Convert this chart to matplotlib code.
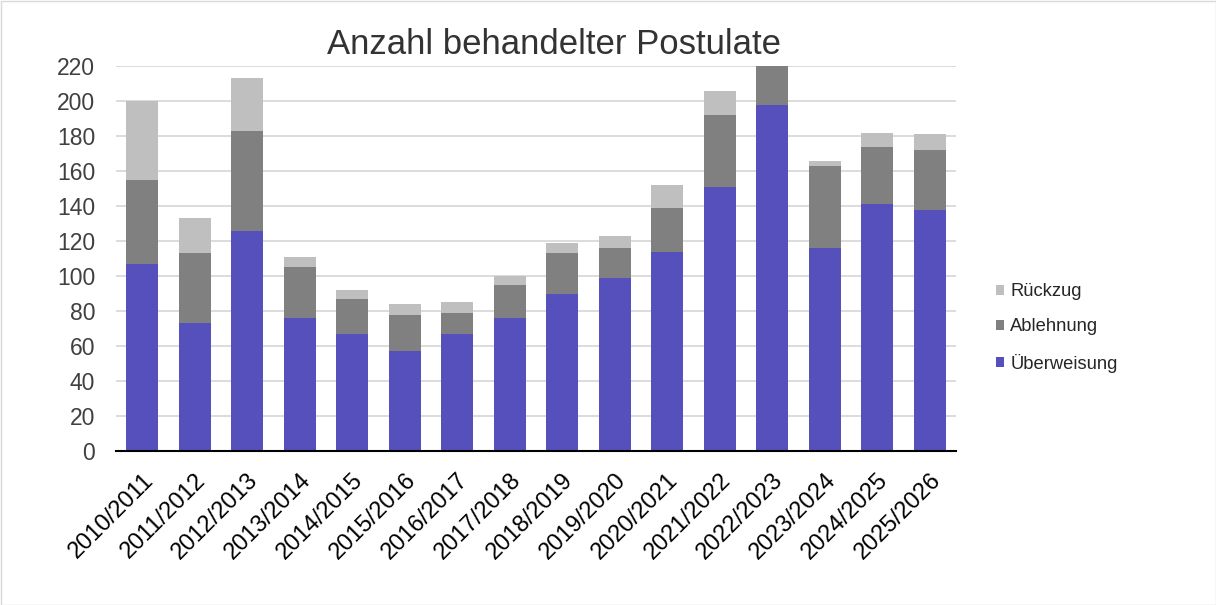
import numpy as np
import matplotlib.pyplot as plt
from matplotlib.patches import Rectangle

plt.rcParams["font.family"] = ["Liberation Sans", "DejaVu Sans"]

years = ["2010/2011", "2011/2012", "2012/2013", "2013/2014", "2014/2015",
         "2015/2016", "2016/2017", "2017/2018", "2018/2019", "2019/2020",
         "2020/2021", "2021/2022", "2022/2023", "2023/2024", "2024/2025",
         "2025/2026"]
ueberweisung = [107, 73, 126, 76, 67, 57, 67, 76, 90, 99, 114, 151, 198, 116, 141, 138]
ablehnung = [48, 40, 57, 29, 20, 21, 12, 19, 23, 17, 25, 41, 30, 47, 33, 34]
rueckzug = [45, 20, 30, 6, 5, 6, 6, 5, 6, 7, 13, 14, 10, 3, 8, 9]

c_ueb = "#5650bd"
c_abl = "#808080"
c_rue = "#bfbfbf"

fig = plt.figure(figsize=(12.16, 6.05), dpi=100)
ax = fig.add_axes([116 / 1216, 1 - 451 / 605, (956 - 116) / 1216, (451 - 66) / 605])

x = np.arange(len(years))
w = 0.61
b1 = ax.bar(x, ueberweisung, w, color=c_ueb, label="Überweisung", zorder=2)
bottom2 = np.array(ueberweisung)
b2 = ax.bar(x, ablehnung, w, bottom=bottom2, color=c_abl, label="Ablehnung", zorder=2)
bottom3 = bottom2 + np.array(ablehnung)
b3 = ax.bar(x, rueckzug, w, bottom=bottom3, color=c_rue, label="Rückzug", zorder=2)

ax.set_ylim(0, 220)
ax.set_xlim(-0.5, len(years) - 0.5)
ax.set_yticks(range(0, 221, 20))
ax.yaxis.grid(True, color="#d9d9d9", linewidth=1.3, zorder=0)
ax.set_axisbelow(True)
for s in ["top", "right", "left"]:
    ax.spines[s].set_visible(False)
ax.spines["bottom"].set_color("black")
ax.spines["bottom"].set_linewidth(1.5)
ax.spines["bottom"].set_zorder(3)
ax.tick_params(axis="y", length=0, labelsize=16.5, colors="#404040", pad=15)
ax.tick_params(axis="x", length=0, labelsize=17, colors="black", pad=13)
ax.set_xticks(x)
ax.set_xticklabels(years, rotation=45, ha="right", rotation_mode="anchor")

fig.text(554 / 1216, 1 - 45 / 605, "Anzahl behandelter Postulate", ha="center",
         va="center", fontsize=25, color="#333333")

ax.legend(handles=[b3, b2, b1], loc="center left", bbox_to_anchor=(979 / 1216, 1 - 328 / 605),
          bbox_transform=fig.transFigure, frameon=False, fontsize=13.2,
          handlelength=0.45, handleheight=0.45, handletextpad=0.35, labelspacing=1.0,
          labelcolor="#262626")

fig.patches.append(Rectangle((0.5 / 1216, 0.5 / 605), 1 - 1 / 1216, 1 - 1 / 605,
                             transform=fig.transFigure, fill=False,
                             edgecolor="#d9d9d9", linewidth=1))

fig.savefig("out.png", dpi=100)
